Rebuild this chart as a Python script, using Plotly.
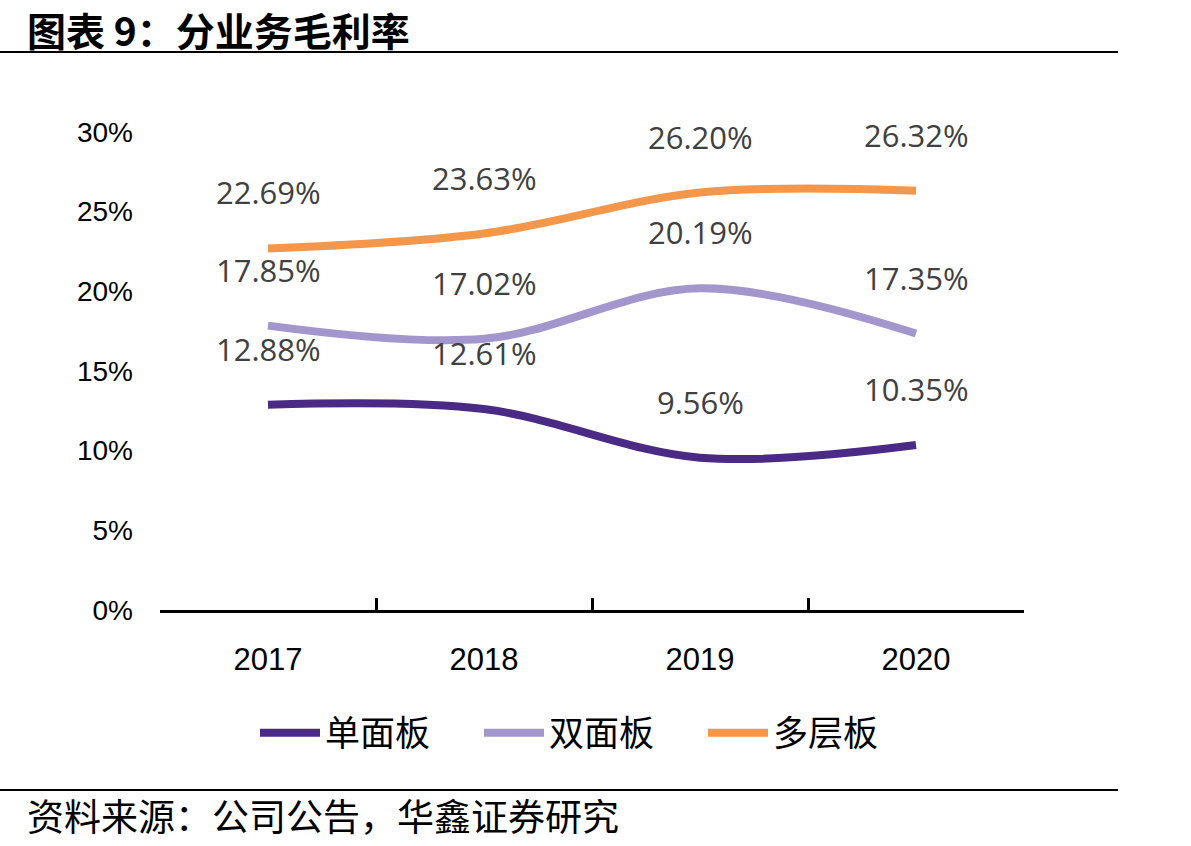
import plotly.graph_objects as go

years = ["2017", "2018", "2019", "2020"]
single = [12.88, 12.61, 9.56, 10.35]
double = [17.85, 17.02, 20.19, 17.35]
multi = [22.69, 23.63, 26.20, 26.32]
series_names = ["单面板", "双面板", "多层板"]
colors = ["#4B2A85", "#A396CC", "#F4974A"]
y_ticks = [0, 5, 10, 15, 20, 25, 30]

fig = go.Figure()
for name, vals, col in zip(series_names, [single, double, multi], colors):
    fig.add_trace(go.Scatter(
        x=years, y=vals, name=name, mode="lines",
        line=dict(color=col, width=8, shape="spline", smoothing=1.0),
        cliponaxis=False,
    ))

annotations = []
for vals in [single, double, multi]:
    for i, v in enumerate(vals):
        annotations.append(dict(
            x=i, y=v, xref="x", yref="y", text=f"{v:.2f}%",
            showarrow=False, yshift=56, xanchor="center", yanchor="middle",
            font=dict(family="Open Sans", size=31, color="#404040"),
        ))

W, H = 1191, 846
L, R, T, B = 160, 167, 132, 236
pw, ph = W - L - R, H - T - B

def px_x(p):
    return (p - L) / pw

def px_y(p):
    return (H - B - p) / ph

annotations.append(dict(
    x=px_x(25), y=px_y(29), xref="paper", yref="paper",
    text="<b>图表 9：分业务毛利率</b>", showarrow=False,
    xanchor="left", yanchor="middle",
    font=dict(family="Noto Sans CJK SC", size=39, color="#000000"),
))
annotations.append(dict(
    x=px_x(25), y=px_y(815), xref="paper", yref="paper",
    text="资料来源：公司公告，华鑫证券研究", showarrow=False,
    xanchor="left", yanchor="middle",
    font=dict(family="Noto Sans CJK SC", size=37, color="#000000"),
))

shapes = [
    dict(type="line", xref="paper", yref="paper", x0=px_x(0), x1=px_x(1118),
         y0=px_y(52), y1=px_y(52), line=dict(color="#000000", width=2)),
    dict(type="line", xref="paper", yref="paper", x0=px_x(0), x1=px_x(1118),
         y0=px_y(790), y1=px_y(790), line=dict(color="#000000", width=2)),
]

fig.update_layout(
    width=W, height=H,
    margin=dict(l=L, r=R, t=T, b=B),
    paper_bgcolor="white", plot_bgcolor="white",
    showlegend=True,
    legend=dict(
        orientation="h", x=px_x(255), y=px_y(733), xanchor="left", yanchor="middle",
        font=dict(family="Noto Sans CJK SC", size=35, color="#000000"),
        itemwidth=60, tracegroupgap=0,
        entrywidth=149, entrywidthmode="pixels",
    ),
    annotations=annotations,
    shapes=shapes,
    xaxis=dict(
        type="category", range=[-0.5, 3.5],
        showline=True, linecolor="#000000", linewidth=3,
        ticks="inside", tickson="boundaries", ticklen=12, tickwidth=3, tickcolor="#000000",
        showgrid=False, zeroline=False,
        tickfont=dict(family="Liberation Sans", size=31, color="#000000"),
        ticklabelstandoff=20,
    ),
    yaxis=dict(
        range=[0, 30], tickvals=y_ticks, ticktext=[f"{v}%" for v in y_ticks],
        showline=False, showgrid=False, zeroline=False, ticks="",
        tickfont=dict(family="Liberation Sans", size=28, color="#000000"),
        ticklabelstandoff=26,
    ),
)

fig.write_html("out.html")
